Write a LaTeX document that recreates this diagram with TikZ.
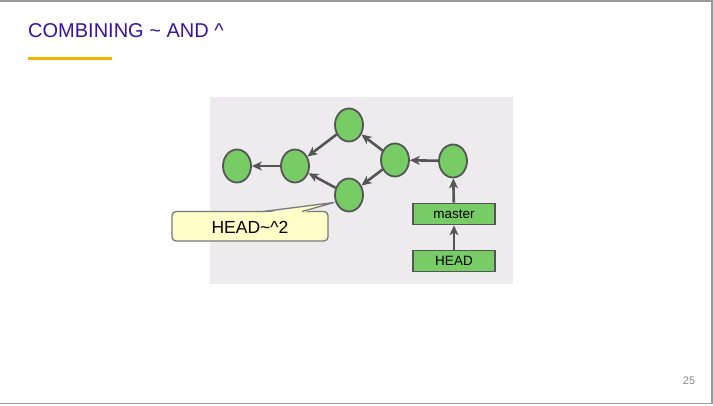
\documentclass[tikz,border=0pt]{standalone}
\usepackage{fontspec}
\setmainfont{Liberation Sans}
\usetikzlibrary{arrows.meta,shapes.geometric}
\definecolor{titlecol}{HTML}{3A12A0}
\definecolor{barcol}{HTML}{F5B400}
\definecolor{framecol}{HTML}{9A9A9A}
\definecolor{bgcol}{HTML}{EDEBEE}
\definecolor{nodegreen}{HTML}{77CC66}
\definecolor{edgecol}{HTML}{555555}
\definecolor{calloutfill}{HTML}{FFFDC8}
\definecolor{calloutdraw}{HTML}{7A7A7A}
\definecolor{pagecol}{HTML}{888888}
\begin{document}
\begin{tikzpicture}[x=1pt,y=-1pt,
  commit/.style={ellipse, draw=edgecol, line width=1.8pt, fill=nodegreen, minimum width=28pt, minimum height=33pt, inner sep=0pt},
  refbox/.style={rectangle, draw=edgecol, line width=1.8pt, fill=nodegreen, minimum width=82pt, minimum height=21pt, inner sep=0pt, font=\fontsize{13.5}{15}\selectfont},
  arr/.style={draw=edgecol, line width=2.6pt, -{Stealth[length=10pt,width=9pt,inset=3pt]}}
]
\useasboundingbox (0,0) rectangle (713,405);
% slide frame (top, right, bottom)
\draw[framecol, line width=1.5pt] (0,0.75) -- (712,0.75) -- (712,403.5) -- (0,403.5);
% title
\node[anchor=base west, inner sep=0pt, text=titlecol, font=\fontsize{20}{22}\selectfont] (title) at (28,37.5) {COMBINING \char`\~{} AND \char`\^{}};
\draw[barcol, line width=2.2pt] (28,58.5) -- (112,58.5);
% background panel
\fill[bgcol] (210,97) rectangle (513,284);
% commits
\node[commit] (A) at (237,166) {};
\node[commit] (B) at (295,166) {};
\node[commit] (C) at (349,125) {};
\node[commit] (D) at (349,195) {};
\node[commit] (E) at (395,160) {};
\node[commit] (F) at (453,161) {};
% refs
\node[refbox] (master) at (454,214) {master};
\node[refbox] (head) at (454,261) {HEAD};
% edges
\draw[arr] (B) -- (A);
\draw[arr] (C) -- (B);
\draw[arr] (D) -- (B);
\draw[arr] (E) -- (C);
\draw[arr] (E) -- (D);
\draw[arr] (F) -- (E);
\draw[arr] (master) -- (F);
\draw[arr] (head) -- (master);
% callout
\coordinate (tip) at (334,202.5);
\draw[draw=calloutdraw, fill=calloutfill, line width=1.3pt, rounded corners=4pt] (172,211.5) rectangle (328,241);
\fill[calloutfill] (263,213) -- (tip) -- (302,213) -- cycle;
\draw[calloutdraw, line width=1.3pt, line join=round] (263,211.5) -- (tip) -- (302,211.5);
\node[font=\fontsize{17.5}{20}\selectfont, inner sep=0pt] (calltext) at (250,227) {HEAD\char`\~{}\char`\^{}2};
% page number
\node[text=pagecol, font=\fontsize{11}{13}\selectfont, inner sep=0pt] (page) at (689,381) {25};
\end{tikzpicture}
\end{document}
